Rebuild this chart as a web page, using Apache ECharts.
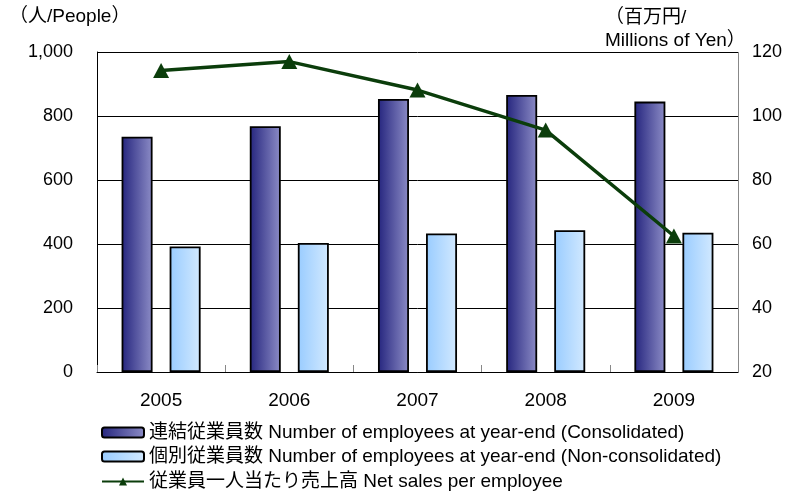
<!DOCTYPE html>
<html><head><meta charset="utf-8">
<script src="https://cdn.jsdelivr.net/npm/echarts@6/dist/echarts.min.js"></script>
<style>html,body{margin:0;padding:0;background:#fff}#c{width:789px;height:496px}</style>
</head><body><div id="c"></div>
<script>
const categories = ['2005','2006','2007','2008','2009'];
const consolidated = [735, 768, 853, 866, 845];
const nonConsolidated = [392, 403, 433, 443, 435];
const salesPerEmployee = [114.2, 117.0, 108.1, 95.6, 62.5];
const leftTicks = [0, 1000, 200];
const rightTicks = [20, 120, 20];
const seriesNames = [
  '連結従業員数 Number of employees at year-end (Consolidated)',
  '個別従業員数 Number of employees at year-end (Non-consolidated)',
  '従業員一人当たり売上高 Net sales per employee'
];
const FONT = '"Liberation Sans", Arial, "Noto Sans CJK JP", sans-serif';

const legendBase = {
  orient: 'horizontal', left: 101, itemWidth: 42, itemHeight: 10, itemGap: 4, padding: 0,
  textStyle: { fontSize: 19, color: '#000', fontFamily: FONT, padding: [0, 0, 0, 0] }
};

const chart = echarts.init(document.getElementById('c'));
chart.setOption({
  animation: false,
  backgroundColor: '#fff',
  textStyle: { fontFamily: FONT },
  grid: { left: 97, right: 51, top: 52, bottom: 124, containLabel: false },
  graphic: [
    { type: 'text', left: 9, top: 7, z: 100,
      style: { text: '（人/People）', font: '19px ' + FONT, fill: '#000' } },
    { type: 'text', left: 605, top: 6, z: 100,
      style: { text: '（百万円/\nMillions of Yen）', font: '19px ' + FONT, fill: '#000',
               lineHeight: 23, backgroundColor: '#fff' } }
  ],
  legend: [
    Object.assign({}, legendBase, { top: 423, data: [seriesNames[0]] }),
    Object.assign({}, legendBase, { top: 447, data: [seriesNames[1]] }),
    Object.assign({}, legendBase, { top: 472, data: [seriesNames[2]] })
  ],
  xAxis: {
    type: 'category', data: categories, boundaryGap: true,
    axisLine: { lineStyle: { color: '#000', width: 1 } },
    axisTick: { show: true, inside: true, length: 7, lineStyle: { color: '#888' } },
    axisLabel: { fontSize: 19, color: '#000', margin: 19, fontFamily: FONT }
  },
  yAxis: [
    { type: 'value', min: leftTicks[0], max: leftTicks[1], interval: leftTicks[2],
      axisLine: { show: true, lineStyle: { color: '#000' } },
      axisTick: { show: false },
      splitLine: { show: true, lineStyle: { color: '#000', width: 1 } },
      axisLabel: { fontSize: 18, color: '#000', margin: 24, fontFamily: FONT,
        formatter: v => v.toLocaleString('en-US') } },
    { type: 'value', min: rightTicks[0], max: rightTicks[1], interval: rightTicks[2],
      position: 'right',
      axisLine: { show: true, lineStyle: { color: '#888' } },
      axisTick: { show: false },
      splitLine: { show: false },
      axisLabel: { fontSize: 18, color: '#000', margin: 14, fontFamily: FONT } }
  ],
  series: [
    { name: seriesNames[0], type: 'bar', data: consolidated, barWidth: 31, barGap: '55%',
      itemStyle: { borderColor: '#000', borderWidth: 1.8,
        color: new echarts.graphic.LinearGradient(0, 0, 1, 0, [
          { offset: 0, color: '#25257e' }, { offset: 1, color: '#8c8cc6' }]) } },
    { name: seriesNames[1], type: 'bar', data: nonConsolidated, barWidth: 31,
      itemStyle: { borderColor: '#000', borderWidth: 1.8,
        color: new echarts.graphic.LinearGradient(0, 0, 1, 0, [
          { offset: 0, color: '#99ccff' }, { offset: 1, color: '#d2e9ff' }]) } },
    { name: seriesNames[2], type: 'line', yAxisIndex: 1, data: salesPerEmployee,
      symbol: 'triangle', symbolSize: [16, 15], z: 5,
      lineStyle: { color: '#0b3d0b', width: 3.5 },
      itemStyle: { color: '#0b3d0b' } }
  ]
});
</script></body></html>
